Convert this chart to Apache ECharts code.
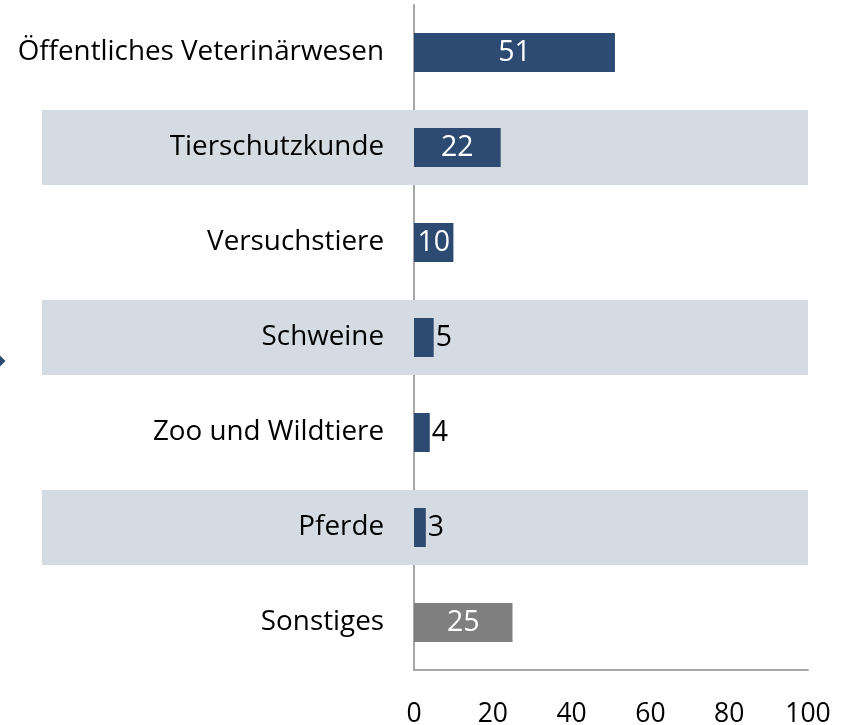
<!DOCTYPE html>
<html><head><meta charset="utf-8">
<script src="https://cdn.jsdelivr.net/npm/echarts@6/dist/echarts.min.js"></script>
<style>html,body{margin:0;padding:0;background:#fff}#c{width:849px;height:725px}</style>
</head><body><div id="c"></div>
<script>
const categories = ['Öffentliches Veterinärwesen','Tierschutzkunde','Versuchstiere','Schweine','Zoo und Wildtiere','Pferde','Sonstiges'];
const values = [51, 22, 10, 5, 4, 3, 25];
const isOther = [false, false, false, false, false, false, true];
const bandFlags = [0, 1, 0, 1, 0, 1, 0];
const xTicks = [0, 20, 40, 60, 80, 100];

const FONT = 'Open Sans';
const NAVY = '#2C4A72', GRAY = '#7F7F7F', BAND = '#D5DBE3';

const chart = echarts.init(document.getElementById('c'), null, {renderer:'canvas'});
chart.setOption({
  animation:false,
  grid:[
    {left:414, width:394, top:5, height:665, containLabel:false, outerBoundsMode:'none'},
    {left:42, width:766, top:5, height:665, containLabel:false, outerBoundsMode:'none', z:0}
  ],
  xAxis:[
    {gridIndex:0, type:'value', min:xTicks[0], max:xTicks[xTicks.length-1], interval:20,
     axisLine:{show:true, lineStyle:{color:'#A6A6A6', width:2}}, axisTick:{show:false}, splitLine:{show:false},
     axisLabel:{color:'#000', fontFamily:FONT, fontSize:26.5, margin:31}},
    {gridIndex:1, type:'value', min:0, max:1, show:false}
  ],
  yAxis:[
    {gridIndex:0, type:'category', inverse:true, data:categories,
     axisLine:{show:true, lineStyle:{color:'#A6A6A6', width:2}}, axisTick:{show:false},
     axisLabel:{color:'#000', fontFamily:FONT, fontSize:27.8, margin:30}},
    {gridIndex:1, type:'category', inverse:true, data:categories, show:false}
  ],
  series:[
    {type:'bar', xAxisIndex:1, yAxisIndex:1, data:bandFlags, barWidth:75, silent:true, z:0,
     itemStyle:{color:BAND}},
    {type:'bar', xAxisIndex:0, yAxisIndex:0, barWidth:39, z:3,
     data: values.map((v,i)=>({
       value:v,
       itemStyle:{color: isOther[i] ? GRAY : NAVY},
       label: v >= 10 ? {position:'inside', color:'#fff'} : {position:'right', color:'#000', distance:2}
     })),
     label:{show:true, fontFamily:FONT, fontSize:28.5}}
  ],
  graphic:[
    {type:'polygon', shape:{points:[[5.5,361],[-2.5,353],[-10.5,361],[-2.5,369]]}, style:{fill:NAVY}}
  ]
});
</script></body></html>
